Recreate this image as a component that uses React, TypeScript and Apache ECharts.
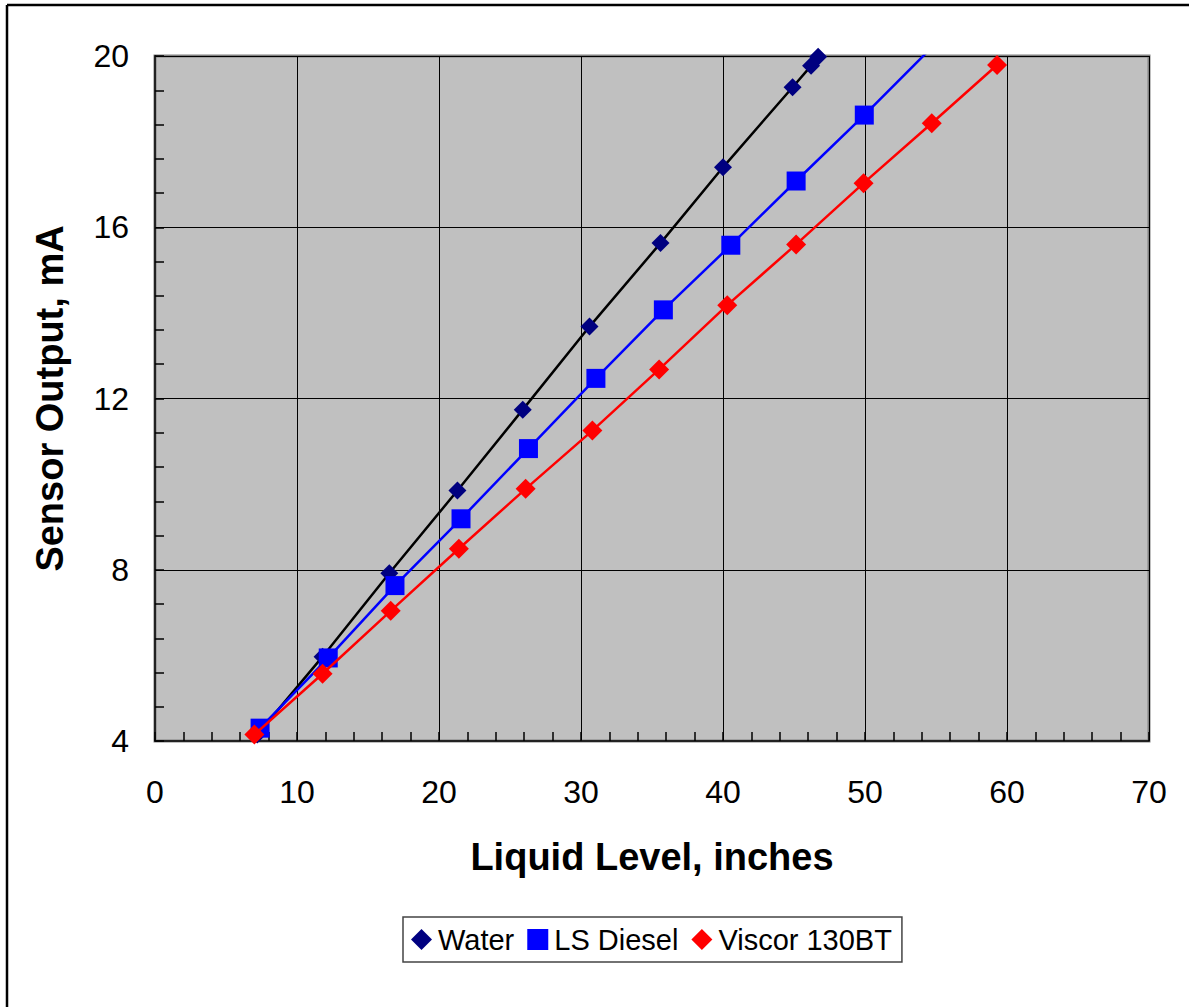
import React, { useEffect, useRef } from "react";
import * as echarts from "echarts";

const xTicks = [0, 10, 20, 30, 40, 50, 60, 70];
const yTicks = [4, 8, 12, 16, 20];

const waterX = [7.2, 11.8, 16.5, 21.3, 25.9, 30.6, 35.6, 40.0, 44.9, 46.2, 46.7];
const waterY = [4.15, 5.97, 7.92, 9.85, 11.74, 13.68, 15.63, 17.4, 19.27, 19.77, 19.98];

const dieselX = [7.4, 12.2, 16.9, 21.55, 26.3, 31.05, 35.8, 40.55, 45.15, 49.95, 54.7];
const dieselY = [4.3, 5.94, 7.63, 9.19, 10.83, 12.47, 14.07, 15.58, 17.08, 18.62, 20.2];

const viscorX = [7.0, 11.8, 16.6, 21.4, 26.1, 30.8, 35.5, 40.3, 45.15, 49.9, 54.7, 59.3];
const viscorY = [4.15, 5.57, 7.04, 8.49, 9.89, 11.25, 12.68, 14.18, 15.6, 17.03, 18.43, 19.79];

const seriesNames = ["Water", "LS Diesel", "Viscor 130BT"];

const FONT = "'Liberation Sans', Arial, sans-serif";

const pairs = (xs: number[], ys: number[]) => xs.map((x, i) => [x, ys[i]]);

export default function App() {
  const ref = useRef<HTMLDivElement>(null);

  useEffect(() => {
    if (!ref.current) return;
    const chart = echarts.init(ref.current, null, { renderer: "svg" });
    chart.setOption({
      animation: false,
      backgroundColor: "#ffffff",
      textStyle: { fontFamily: FONT },
      grid: {
        left: 155,
        top: 56,
        right: 40,
        bottom: 266,
        show: true,
        backgroundColor: "#C0C0C0",
        borderColor: "#808080",
        borderWidth: 3,
      },
      xAxis: {
        type: "value",
        min: xTicks[0],
        max: xTicks[xTicks.length - 1],
        interval: 10,
        name: "Liquid Level, inches",
        nameLocation: "middle",
        nameGap: 97,
        nameTextStyle: { fontSize: 38, fontWeight: "bold", color: "#000", fontFamily: FONT },
        axisLine: { show: true, lineStyle: { color: "#222", width: 2 } },
        axisTick: { show: true, inside: true, length: 9, lineStyle: { color: "#000", width: 1.5 } },
        minorTick: { show: true, splitNumber: 5, length: 9, lineStyle: { color: "#000", width: 1.5 } },
        axisLabel: { fontSize: 32, color: "#000", margin: 35, fontFamily: FONT },
        splitLine: { show: true, lineStyle: { color: "#000", width: 1 } },
      },
      yAxis: {
        type: "value",
        min: yTicks[0],
        max: yTicks[yTicks.length - 1],
        interval: 4,
        name: "Sensor Output, mA",
        nameLocation: "middle",
        nameGap: 86,
        nameTextStyle: { fontSize: 38, fontWeight: "bold", color: "#000", fontFamily: FONT },
        axisLine: { show: true, lineStyle: { color: "#222", width: 2 } },
        axisTick: { show: true, inside: true, length: 9, lineStyle: { color: "#000", width: 1.5 } },
        minorTick: { show: true, splitNumber: 5, length: 9, lineStyle: { color: "#000", width: 1.5 } },
        axisLabel: { fontSize: 32, color: "#000", margin: 26, fontFamily: FONT },
        splitLine: { show: true, lineStyle: { color: "#000", width: 1 } },
      },
      legend: {
        left: 403,
        top: 917,
        orient: "horizontal",
        padding: [8, 10, 8, 8],
        itemGap: 13,
        itemWidth: 21,
        itemHeight: 21,
        borderColor: "#444",
        borderWidth: 1.5,
        backgroundColor: "#fff",
        textStyle: { fontSize: 29, color: "#000", fontFamily: FONT, padding: [0, 0, 0, 1] },
        data: [
          { name: seriesNames[0], icon: "diamond" },
          { name: seriesNames[1], icon: "rect" },
          { name: seriesNames[2], icon: "diamond" },
        ],
      },
      graphic: [
        { type: "line", shape: { x1: 7, y1: 5, x2: 1189, y2: 5 }, style: { stroke: "#000", lineWidth: 2.5 } },
        { type: "line", shape: { x1: 7, y1: 5, x2: 7, y2: 1007 }, style: { stroke: "#000", lineWidth: 2.5 } },
      ],
      series: [
        {
          name: seriesNames[0],
          type: "line",
          data: pairs(waterX, waterY),
          symbol: "diamond",
          symbolSize: 18,
          itemStyle: { color: "#000080" },
          lineStyle: { color: "#000", width: 2.5 },
          clip: true,
          z: 3,
        },
        {
          name: seriesNames[1],
          type: "line",
          data: pairs(dieselX, dieselY),
          symbol: "rect",
          symbolSize: 19,
          itemStyle: { color: "#0000FF" },
          lineStyle: { color: "#0000FF", width: 2.5 },
          clip: true,
          z: 4,
        },
        {
          name: seriesNames[2],
          type: "line",
          data: pairs(viscorX, viscorY),
          symbol: "diamond",
          symbolSize: 20,
          itemStyle: { color: "#FF0000" },
          lineStyle: { color: "#FF0000", width: 2.5 },
          clip: true,
          z: 5,
        },
      ],
    });
    return () => chart.dispose();
  }, []);

  return (
    <div
      ref={ref}
      style={{ position: "fixed", left: 0, top: 0, width: 1189, height: 1007, background: "#fff" }}
    />
  );
}
